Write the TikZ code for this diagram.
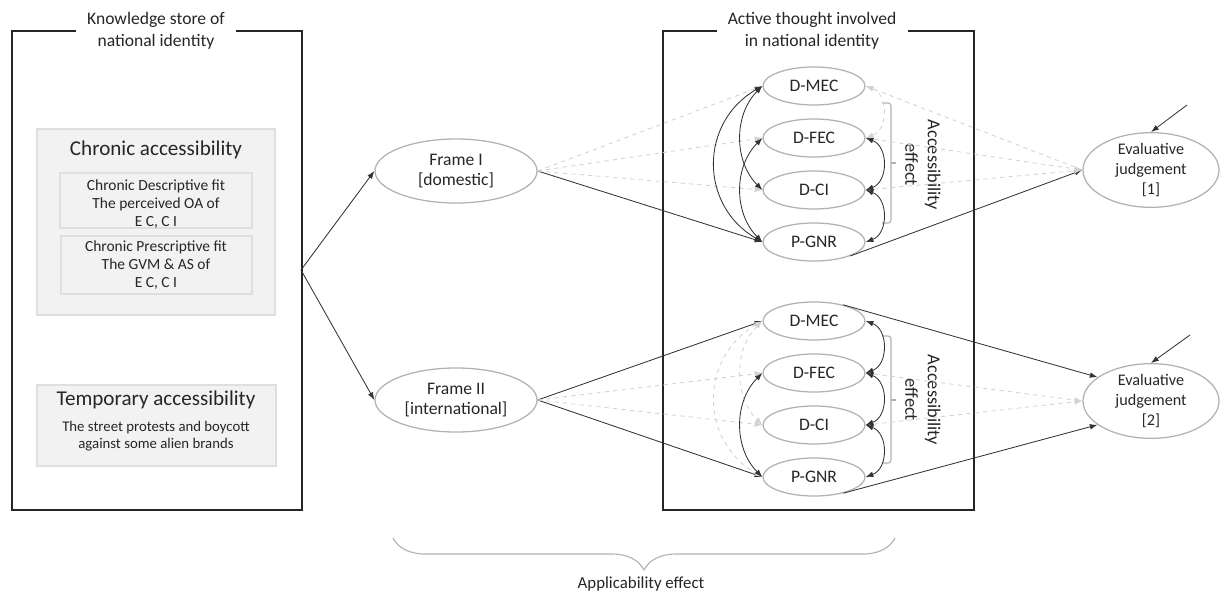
\documentclass[tikz,border=0pt]{standalone}
\usepackage{fontspec}
\setmainfont{Carlito}
\usetikzlibrary{shapes.geometric, decorations.pathreplacing, arrows.meta, positioning}

\tikzset{
    oval/.style={ellipse, draw=gray!60, line width=0.9pt, inner sep=0pt, align=center, text=black!85},
    frame oval/.style={oval, minimum width=4.05cm, minimum height=1.6cm, font=\fontsize{12.5}{14.5}\selectfont},
    item oval/.style={oval, minimum width=2.55cm, minimum height=0.95cm, font=\fontsize{12.5}{14}\selectfont},
    judgement oval/.style={oval, minimum width=3.4cm, minimum height=1.6cm, font=\fontsize{11.5}{14}\selectfont},
    title/.style={fill=white, align=center, inner xsep=8pt, font=\fontsize{12.5}{16}\selectfont, text=black!85},
    grey box/.style={fill=gray!10, draw=gray!25, line width=0.8pt},
    head text/.style={font=\fontsize{15}{18}\selectfont, text=black!85},
    fit text/.style={align=center, font=\fontsize{11}{12.6}\selectfont, text=black!85},
    link/.style={->, line width=0.6pt, draw=black!80},
    faint/.style={->, dashed, line width=0.6pt, draw=gray!35},
    bracket/.style={draw=gray!60, line width=0.8pt},
}

\begin{document}
\begin{tikzpicture}[x=0.025cm, y=-0.025cm, >={Latex[length=5.5pt, width=4pt]}]
    \useasboundingbox (0, 0) rectangle (1221, 597);

    % knowledge store
    \draw [line width=1pt, black!85] (12, 31) rectangle (302, 510);
    \node [title] (store title) at (156, 31) {Knowledge store of\\national identity};

    \draw [grey box] (37, 129) rectangle (275, 315);
    \node [head text] (chronic) at (156, 150) {Chronic accessibility};
    \draw [grey box] (60, 173) rectangle (252, 228);
    \node [fit text] (descriptive) at (156, 204) {Chronic Descriptive fit\\The perceived OA of\\E C, C I};
    \draw [grey box] (61, 236) rectangle (252, 294);
    \node [fit text] (prescriptive) at (156, 265) {Chronic Prescriptive fit\\The GVM \& AS of\\E C, C I};

    \draw [grey box] (37, 385) rectangle (276, 466);
    \node [head text] (temporary) at (156, 400) {Temporary accessibility};
    \node [fit text, font=\fontsize{10.5}{12.5}\selectfont] (protests) at (156, 436) {The street protests and boycott\\against some alien brands};

    % frames
    \coordinate (split) at (301, 270);
    \node [frame oval] (frame one) at (456, 171) {Frame I\\{[domestic]}};
    \node [frame oval] (frame two) at (456, 400) {Frame II\\{[international]}};
    \draw [link] (split) -- (frame one.west);
    \draw [link] (split) -- (frame two.west);

    % active thought
    \draw [line width=1pt, black!85] (663, 31) rectangle (974, 510);
    \node [title] (thought title) at (812, 31) {Active thought involved\\in national identity};

    \foreach \name/\lbl/\y in {dmec/D-MEC/86, dfec/D-FEC/138, dci/D-CI/190, pgnr/P-GNR/242}
        {
            \node [item oval] (top \name) at (814, \y) {\lbl};
        }
    \foreach \name/\lbl/\y in {dmec/D-MEC/321, dfec/D-FEC/373, dci/D-CI/425, pgnr/P-GNR/477}
        {
            \node [item oval] (bottom \name) at (814, \y) {\lbl};
        }

    \foreach \top/\bot/\mid in {103/223/163, 336/463/400}
        {
            \draw [bracket, rounded corners=2pt] (882, \top) -- (891, \top) -- (891, \bot) -- (882, \bot);
            \draw [bracket] (891, \mid) -- (896, \mid);
        }
    \node [rotate=-90, align=center, font=\fontsize{13}{16}\selectfont, text=black!85] (access top) at (923, 165) {Accessibility\\effect};
    \node [rotate=-90, align=center, font=\fontsize{13}{16}\selectfont, text=black!85] (access bottom) at (923, 400) {Accessibility\\effect};

    % judgements
    \node [judgement oval] (judgement one) at (1151, 170) {Evaluative\\judgement\\{[1]}};
    \node [judgement oval] (judgement two) at (1151, 401) {Evaluative\\judgement\\{[2]}};
    \coordinate (feed one) at (1187, 105);
    \coordinate (feed two) at (1190, 335);
    \draw [link] (feed one) -- (judgement one.north);
    \draw [link] (feed two) -- (judgement two.north);

    % frame I
    \draw [link] (frame one.east) -- (top pgnr.west);
    \foreach \name in {dmec, dfec, dci}
        {
            \draw [faint] (frame one.east) -- (top \name.west);
        }
    \draw [link] (top pgnr.-21) -- (judgement one.west);
    \draw [faint] (judgement one.west) -- (top dmec.east);
    \foreach \name in {dfec, dci}
        {
            \draw [faint] (top \name.east) -- (judgement one.west);
        }
    \draw [link, <->] (top dmec.west) to [bend right=60, looseness=1.2] (top pgnr.west);
    \draw [link, <->] (top dmec.west) to [bend right=45] (top dci.west);
    \draw [link, <->] (top dfec.west) to [bend right=45] (top pgnr.west);
    \draw [faint, <->] (top dmec.east) to [bend left=70, looseness=1.2] (top dfec.east);
    \draw [link, <->] (top dfec.east) to [bend left=70, looseness=1.2] (top dci.east);
    \draw [link, <->] (top dci.east) to [bend left=70, looseness=1.2] (top pgnr.east);

    % frame II
    \draw [link] (frame two.east) -- (bottom dmec.west);
    \draw [link] (frame two.east) -- (bottom pgnr.west);
    \foreach \name in {dfec, dci}
        {
            \draw [faint] (frame two.east) -- (bottom \name.west);
            \draw [faint] (bottom \name.east) -- (judgement two.west);
        }
    \draw [link] (bottom dmec.29) -- (judgement two.156);
    \draw [link] (bottom pgnr.-29) -- (judgement two.204);
    \draw [faint, <->] (bottom dmec.west) to [bend right=60, looseness=1.2] (bottom pgnr.west);
    \draw [faint, <->] (bottom dmec.west) to [bend right=45] (bottom dci.west);
    \draw [link, <->] (bottom dfec.west) to [bend right=45] (bottom pgnr.west);
    \draw [link, <->] (bottom dmec.east) to [bend left=70, looseness=1.2] (bottom dfec.east);
    \draw [link, <->] (bottom dfec.east) to [bend left=70, looseness=1.2] (bottom dci.east);
    \draw [link, <->] (bottom dci.east) to [bend left=70, looseness=1.2] (bottom pgnr.east);

    % applicability
    \draw [bracket, decorate, decoration={brace, amplitude=0.8cm}] (895, 538) -- (393, 538);
    \node [font=\fontsize{12}{14}\selectfont, text=black!85] (applicability) at (641, 584) {Applicability effect};
\end{tikzpicture}
\end{document}
